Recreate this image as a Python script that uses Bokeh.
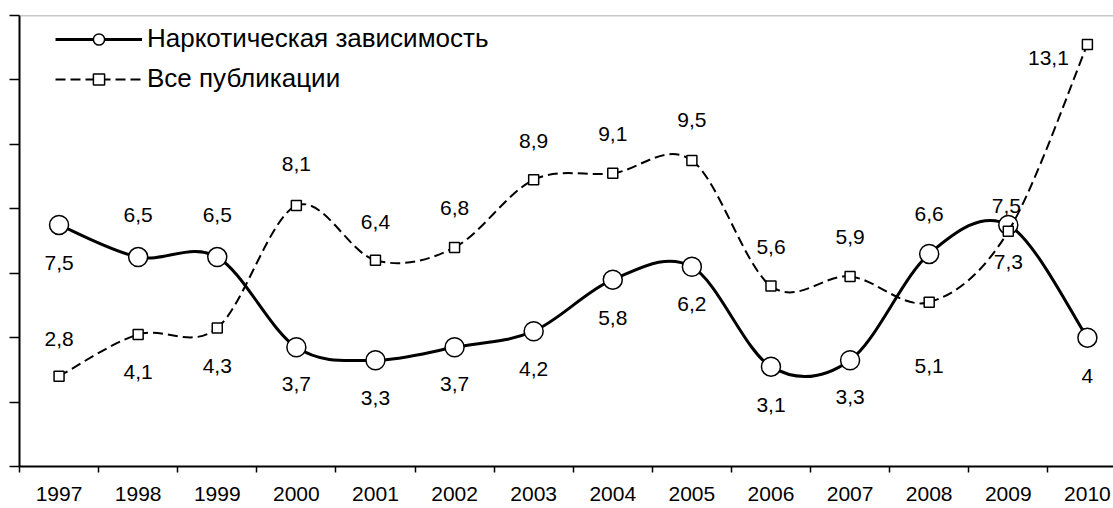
import numpy as np
from bokeh.plotting import figure
from bokeh.models import Range1d, FixedTicker, ColumnDataSource, Legend, LegendItem, Span
from bokeh.core.properties import value
from bokeh.embed import file_html
from bokeh.resources import INLINE

# ---- data ----
years = ["1997", "1998", "1999", "2000", "2001", "2002", "2003",
         "2004", "2005", "2006", "2007", "2008", "2009", "2010"]
narcotic = [7.5, 6.5, 6.5, 3.7, 3.3, 3.7, 4.2, 5.8, 6.2, 3.1, 3.3, 6.6, 7.5, 4]
publications = [2.8, 4.1, 4.3, 8.1, 6.4, 6.8, 8.9, 9.1, 9.5, 5.6, 5.9, 5.1, 7.3, 13.1]
series_names = ["Наркотическая зависимость", "Все публикации"]
y_ticks = [0, 2, 4, 6, 8, 10, 12, 14]

# ---- label placement (style, screen px; +dy = down) ----
narc_dx = [0, 0, 0, 0, 0, 0, 0, 0, 0, 0, 0, 0, -2, 0]
narc_dy = [38, -42, -42, 37, 38, 37, 38, 38, 37, 38, 37, -40, -19, 38]
pub_dx = [0, 0, 0, 0, 0, 0, 0, 0, 0, 0, 0, 0, 0, -39]
pub_dy = [-37, 38, 38, -42, -38, -39, -39, -39, -40, -39, -39, 64, 31, 14]

FONT = "Liberation Sans"


def fmt(v):
    return f"{v:g}".replace(".", ",")


def bezier_source(ys, k=1.0 / 6.0):
    x = np.arange(len(ys), dtype=float)
    y = np.asarray(ys, dtype=float)
    xp = np.concatenate([[x[0]], x, [x[-1]]])
    yp = np.concatenate([[y[0]], y, [y[-1]]])
    n = len(y)
    return ColumnDataSource(dict(
        x0=x[:-1], y0=y[:-1], x1=x[1:], y1=y[1:],
        cx0=x[:-1] + (xp[2:n + 1] - xp[0:n - 1]) * k,
        cy0=y[:-1] + (yp[2:n + 1] - yp[0:n - 1]) * k,
        cx1=x[1:] - (xp[3:n + 2] - xp[1:n]) * k,
        cy1=y[1:] - (yp[3:n + 2] - yp[1:n]) * k,
    ))


xs = list(range(len(years)))

p = figure(width=1113, height=508,
           x_range=Range1d(-0.5, 13.33), y_range=Range1d(0, 14),
           output_backend="svg", toolbar_location=None,
           min_border_left=19, min_border_right=0,
           min_border_top=15, min_border_bottom=42)
p.grid.visible = False
p.outline_line_color = None
p.background_fill_color = "white"

# top border of plot area
p.add_layout(Span(location=14, dimension="width", line_color="#8f8f8f", line_width=1.5))

# x axis
xa = p.xaxis[0]
xa.ticker = FixedTicker(ticks=xs, minor_ticks=[i - 0.5 for i in range(len(years) + 1)])
xa.major_label_overrides = {i: years[i] for i in xs}
xa.axis_line_width = 2
xa.axis_line_color = "black"
xa.major_tick_out = 0
xa.major_tick_in = 0
xa.minor_tick_out = 6
xa.minor_tick_in = 0
xa.minor_tick_line_width = 1.5
xa.minor_tick_line_color = "black"
xa.major_label_text_font = FONT
xa.major_label_text_font_size = "21px"
xa.major_label_text_color = "black"
xa.major_label_standoff = 14

# y axis (ticks only, no labels as in the reference)
ya = p.yaxis[0]
ya.ticker = FixedTicker(ticks=y_ticks)
ya.major_label_overrides = {t: "" for t in y_ticks}
ya.axis_line_width = 2
ya.axis_line_color = "black"
ya.major_tick_out = 10
ya.major_tick_in = 0
ya.major_tick_line_width = 1.5
ya.major_tick_line_color = "black"
ya.major_label_standoff = 0

# narcotic series
narc_curve = p.bezier(x0="x0", y0="y0", x1="x1", y1="y1", cx0="cx0", cy0="cy0",
                      cx1="cx1", cy1="cy1", source=bezier_source(narcotic),
                      line_color="black", line_width=3)
narc_src = ColumnDataSource(dict(x=xs, y=narcotic, label=[fmt(v) for v in narcotic],
                                 dx=narc_dx, dy=narc_dy))
narc_pts = p.scatter("x", "y", source=narc_src, marker="circle", size=19,
                     fill_color="white", line_color="black", line_width=1.5)

# publications series
pub_curve = p.bezier(x0="x0", y0="y0", x1="x1", y1="y1", cx0="cx0", cy0="cy0",
                     cx1="cx1", cy1="cy1", source=bezier_source(publications),
                     line_color="black", line_width=2, line_dash="10 5")
pub_src = ColumnDataSource(dict(x=xs, y=publications, label=[fmt(v) for v in publications],
                                dx=pub_dx, dy=pub_dy))
pub_pts = p.scatter("x", "y", source=pub_src, marker="square", size=10,
                    fill_color="white", line_color="black", line_width=1.5)

# data labels
for src in (narc_src, pub_src):
    p.text(x="x", y="y", text="label", x_offset="dx", y_offset="dy", source=src,
           text_font=value(FONT), text_font_size=value("21px"),
           text_align="center", text_baseline="middle", text_color="black")

legend = Legend(items=[LegendItem(label=series_names[0], renderers=[narc_curve, narc_pts]),
                       LegendItem(label=series_names[1], renderers=[pub_curve, pub_pts])],
                location=(36, 372), glyph_width=87, glyph_height=28, label_standoff=5,
                spacing=9, padding=0, margin=0, border_line_color=None,
                background_fill_alpha=0, label_text_font=FONT, label_text_font_size="26px",
                label_text_color="black")
p.add_layout(legend)

open("out.html", "w").write(file_html(p, INLINE))
